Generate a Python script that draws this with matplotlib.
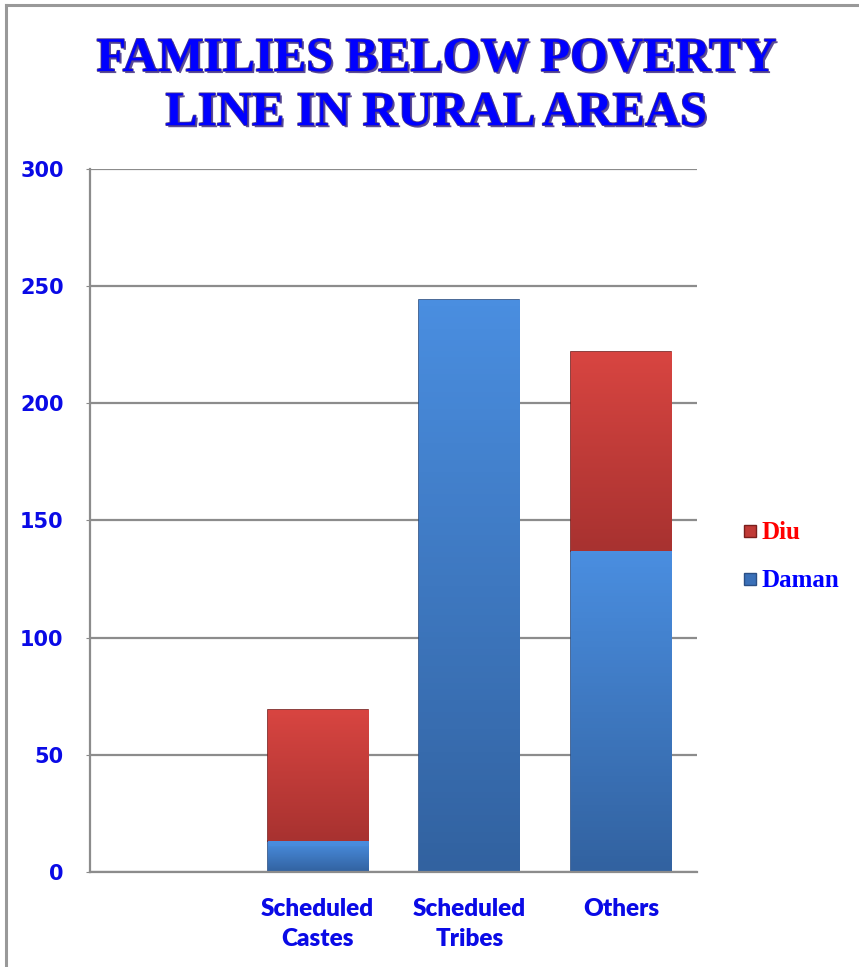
import matplotlib
matplotlib.use('Agg')
import matplotlib.pyplot as plt
import matplotlib.patheffects as pe
from matplotlib.lines import Line2D
import numpy as np

categories = ['', 'Scheduled\nCastes', 'Scheduled\nTribes', 'Others']
daman = [0, 13, 244, 137]
diu = [0, 56, 0, 85]
yticks = [0, 50, 100, 150, 200, 250, 300]

fig = plt.figure(figsize=(8.59, 9.67), dpi=100)
ax = fig.add_axes([0.1048, 0.0983, 0.7066, 0.7269])

x = np.arange(len(categories))
w = 0.66


def shade_bars(bars, top, bottom, edge):
    # vertical gradient clipped to each bar, dark edge like a bevel
    grad = np.linspace(0, 1, 100).reshape(-1, 1)
    cmap = matplotlib.colors.LinearSegmentedColormap.from_list('g', [bottom, top])
    for b in bars:
        if b.get_height() <= 0:
            continue
        x0, y0 = b.get_x(), b.get_y()
        x1, y1 = x0 + b.get_width(), y0 + b.get_height()
        b.set_facecolor('none')
        b.set_edgecolor(edge)
        b.set_linewidth(1.2)
        im = ax.imshow(grad, extent=[x0, x1, y0, y1], aspect='auto', cmap=cmap,
                       origin='lower', zorder=2)
        im.set_clip_path(b)
        ax.plot([x0, x1], [y1 - 1.2, y1 - 1.2], color=top, lw=2.5, alpha=0.6, zorder=3,
                solid_capstyle='butt')


b1 = ax.bar(x, daman, w, color='#3f7fd0', zorder=2)
b2 = ax.bar(x, diu, w, bottom=daman, color='#cc3f3c', zorder=2)
shade_bars(b1, '#4a8ee0', '#3262a0', '#2a4f85')
shade_bars(b2, '#d84541', '#a83230', '#7a1e1c')

ax.set_xlim(-0.5, 3.5)
ax.set_ylim(0, 300)
ax.set_yticks(yticks)
ax.set_yticklabels([str(t) for t in yticks], fontsize=15, fontweight='heavy',
                   color='#0a0ae6', family='DejaVu Sans')
ax.set_xticks(x)
ax.set_xticklabels(categories, fontsize=17.5, fontweight='heavy', color='#0a0ae6',
                   family='Lato', linespacing=1.45)
ax.tick_params(axis='y', length=3, color='#888888', pad=16)
ax.tick_params(axis='x', length=0, pad=19)
ax.grid(axis='y', color='#8c8c8c', lw=1.6, zorder=0)
ax.set_axisbelow(True)
for s in ['top', 'right']:
    ax.spines[s].set_visible(False)
for s in ['left', 'bottom']:
    ax.spines[s].set_color('#8c8c8c')
    ax.spines[s].set_linewidth(1.6)

# title
title_fx = [pe.withSimplePatchShadow(offset=(1.5, -1.5), shadow_rgbFace='#4a3a8c', alpha=0.9),
            pe.withStroke(linewidth=1.2, foreground='#4a3a8c')]
fig.text(0.508, 0.939, 'FAMILIES BELOW POVERTY', ha='center', va='center',
         fontsize=35, fontweight='bold', family='Liberation Serif', color='#0000ff',
         path_effects=title_fx)
fig.text(0.508, 0.883, 'LINE IN RURAL AREAS', ha='center', va='center',
         fontsize=35, fontweight='bold', family='Liberation Serif', color='#0000ff',
         path_effects=title_fx)

# legend
handles = [Line2D([], [], marker='s', ls='', markersize=9, markerfacecolor='#c03a36',
                  markeredgecolor='#7a1e1c'),
           Line2D([], [], marker='s', ls='', markersize=9, markerfacecolor='#3a70b8',
                  markeredgecolor='#2a4f85')]
leg = fig.legend(handles, ['Diu', 'Daman'], loc='center left',
                 bbox_to_anchor=(0.84, 0.424), frameon=False, handlelength=0.5,
                 handletextpad=0.2, labelspacing=1.0,
                 prop={'family': 'Liberation Serif', 'weight': 'bold', 'size': 18})
leg.get_texts()[0].set_color('#ff0000')
leg.get_texts()[1].set_color('#0000ff')

# outer frame (top and left edges)
fig.add_artist(Line2D([0.007, 1.0], [0.995, 0.995], color='#999999', lw=2.2))
fig.add_artist(Line2D([0.007, 0.007], [0.0, 0.995], color='#999999', lw=2.2))

fig.savefig('out.png', dpi=100)
